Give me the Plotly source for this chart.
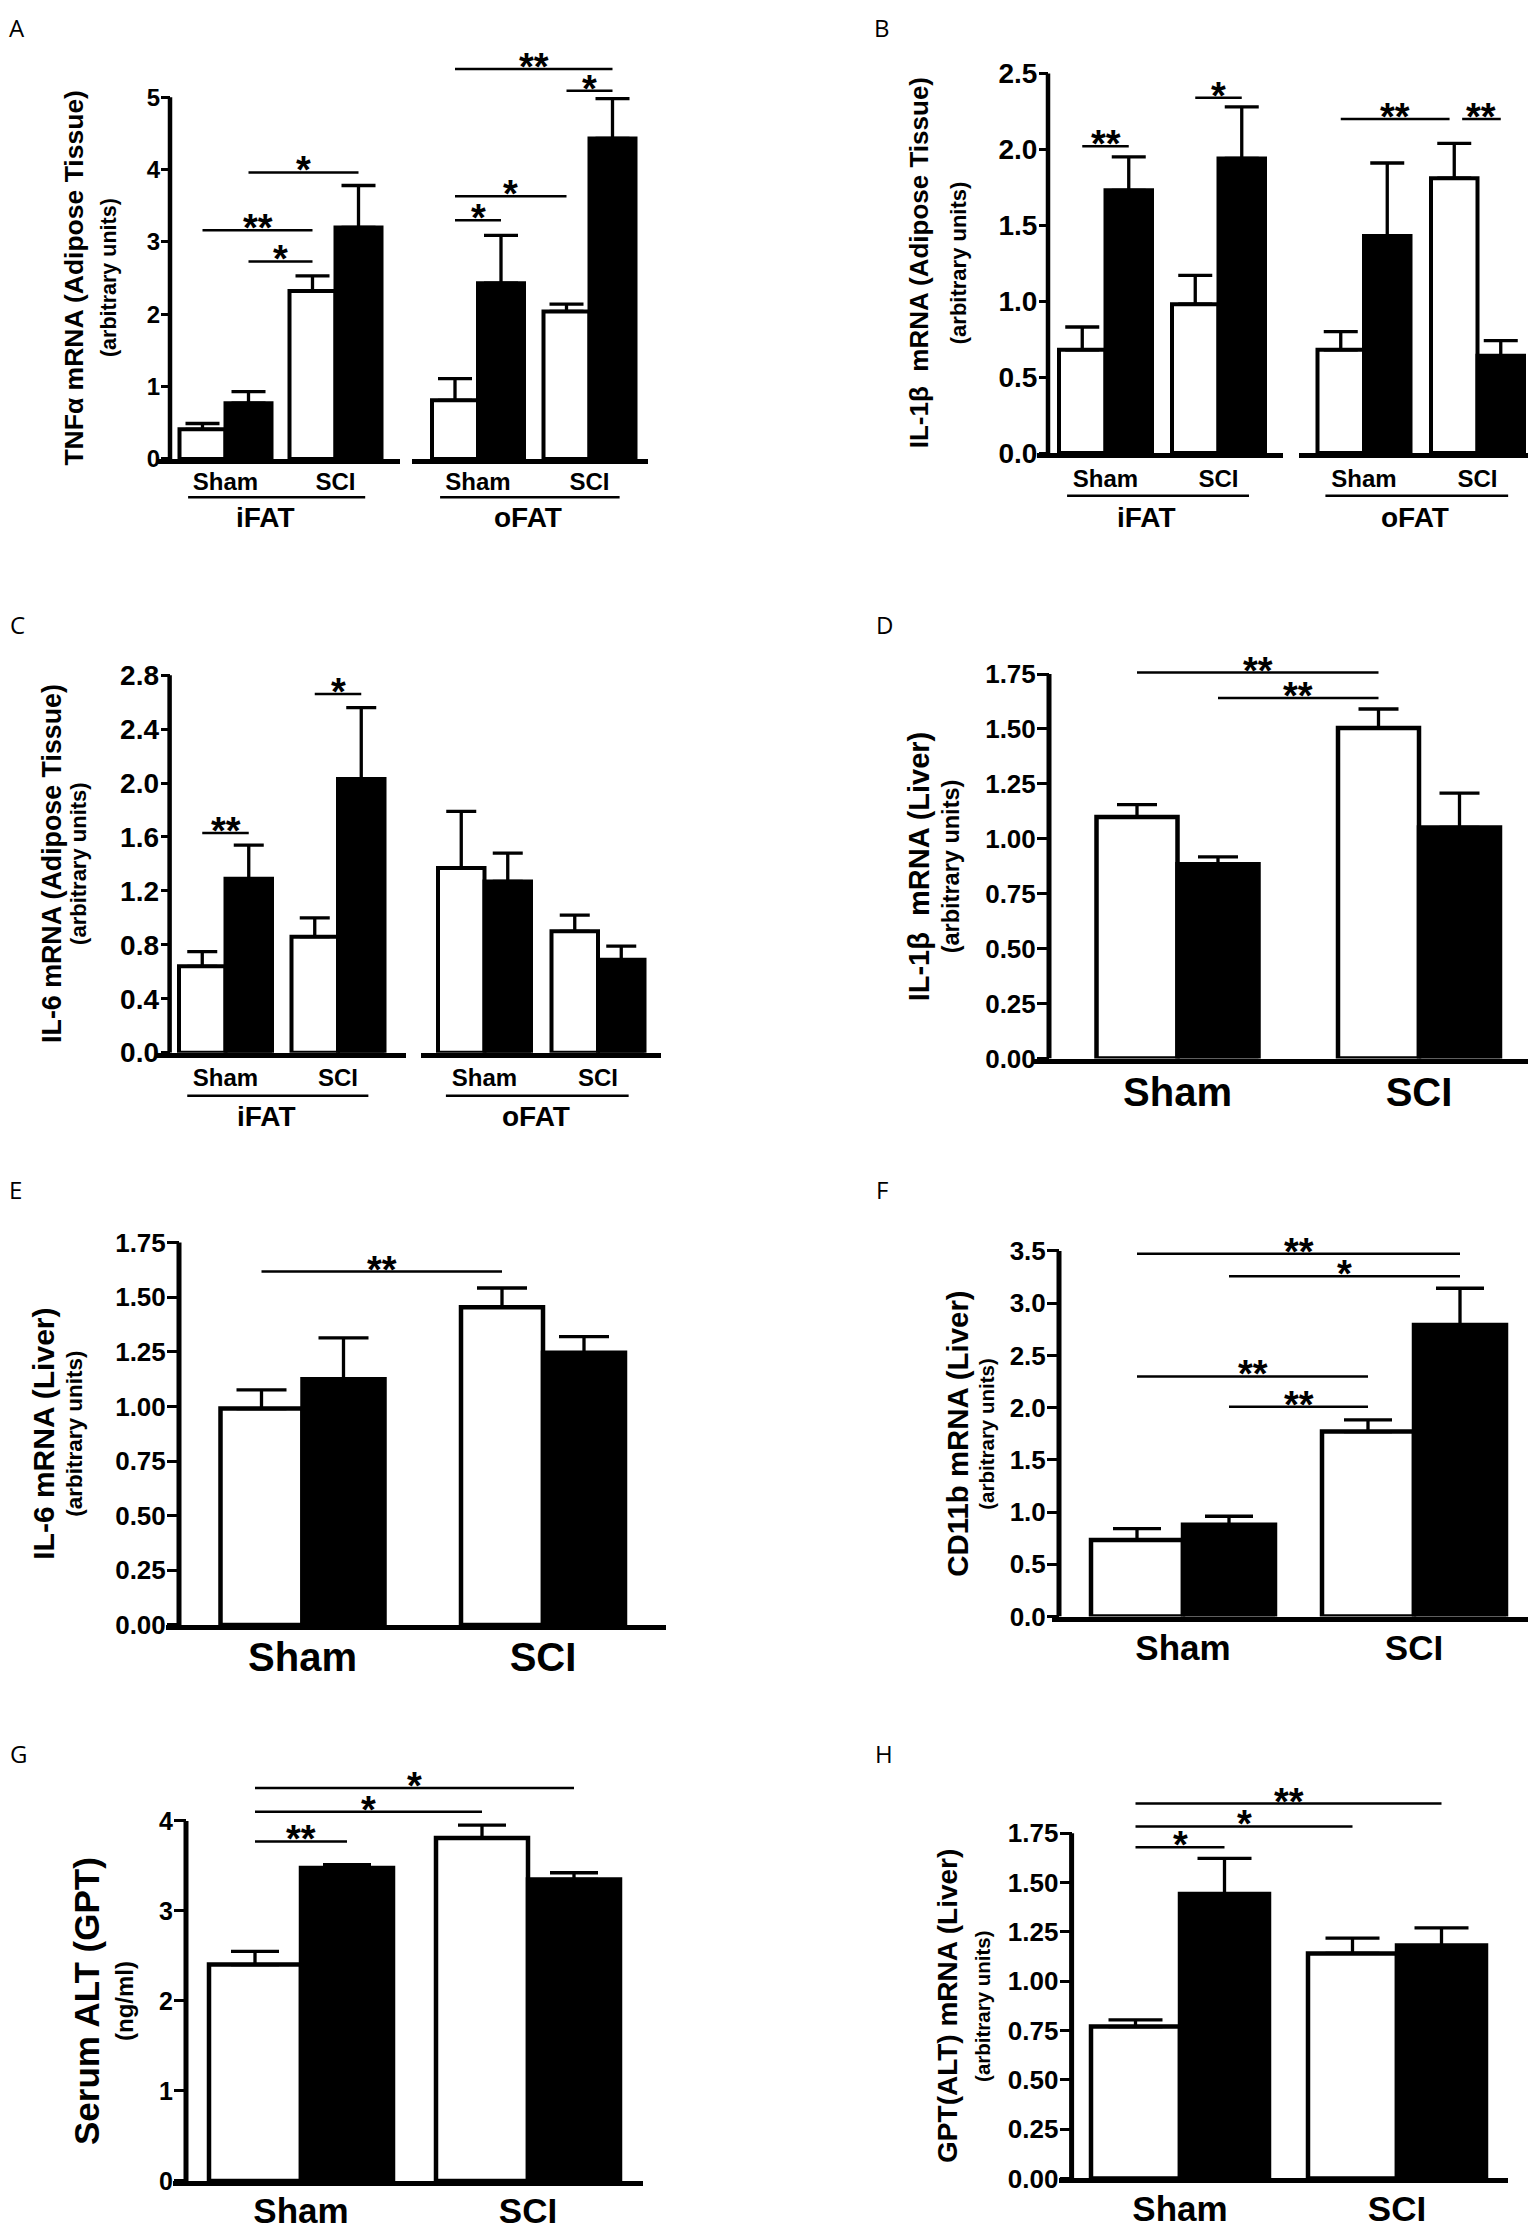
import math
import plotly.graph_objects as go

W, H = 1536, 2240
FONT = "Liberation Sans, Arial, sans-serif"
LETTER_FONT = "Open Sans, DejaVu Sans, sans-serif"

# ---------------- data ----------------
groups = ["Sham", "SCI"]
fat_groups = ["iFAT", "oFAT"]

# A: TNFα mRNA (Adipose Tissue)
A_iFAT_open = [0.41, 2.32]
A_iFAT_open_sem = [0.08, 0.21]
A_iFAT_filled = [0.77, 3.20]
A_iFAT_filled_sem = [0.16, 0.58]
A_oFAT_open = [0.81, 2.04]
A_oFAT_open_sem = [0.30, 0.10]
A_oFAT_filled = [2.43, 4.43]
A_oFAT_filled_sem = [0.66, 0.55]
A_tickvals = [0, 1, 2, 3, 4, 5]
A_ticktext = ["0", "1", "2", "3", "4", "5"]
# brackets: (from bar, to bar, level, label); bars 0=Sham open, 1=Sham filled, 2=SCI open, 3=SCI filled
A_iFAT_sig = [(1, 3, 3.96, "*"), (0, 2, 3.16, "**"), (1, 2, 2.73, "*")]
A_oFAT_sig = [(0, 3, 5.39, "**"), (2, 3, 5.09, "*"), (0, 2, 3.63, "*"), (0, 1, 3.30, "*")]

# B: IL-1β mRNA (Adipose Tissue)
B_iFAT_open = [0.68, 0.98]
B_iFAT_open_sem = [0.15, 0.19]
B_iFAT_filled = [1.73, 1.94]
B_iFAT_filled_sem = [0.22, 0.34]
B_oFAT_open = [0.68, 1.81]
B_oFAT_open_sem = [0.12, 0.23]
B_oFAT_filled = [1.43, 0.64]
B_oFAT_filled_sem = [0.48, 0.10]
B_tickvals = [0.0, 0.5, 1.0, 1.5, 2.0, 2.5]
B_ticktext = ["0.0", "0.5", "1.0", "1.5", "2.0", "2.5"]
B_iFAT_sig = [(0, 1, 2.02, "**"), (2, 3, 2.34, "*")]
B_oFAT_sig = [(0, 1.93, 2.20, "**"), (2.17, 3, 2.20, "**")]

# C: IL-6 mRNA (Adipose Tissue)
C_iFAT_open = [0.64, 0.86]
C_iFAT_open_sem = [0.11, 0.14]
C_iFAT_filled = [1.29, 2.03]
C_iFAT_filled_sem = [0.25, 0.53]
C_oFAT_open = [1.37, 0.90]
C_oFAT_open_sem = [0.42, 0.12]
C_oFAT_filled = [1.27, 0.69]
C_oFAT_filled_sem = [0.21, 0.10]
C_tickvals = [0.0, 0.4, 0.8, 1.2, 1.6, 2.0, 2.4, 2.8]
C_ticktext = ["0.0", "0.4", "0.8", "1.2", "1.6", "2.0", "2.4", "2.8"]
C_iFAT_sig = [(0, 1, 1.63, "**"), (2, 3, 2.66, "*")]
C_oFAT_sig = []

# D: IL-1β mRNA (Liver)
D_open = [1.10, 1.505]
D_open_sem = [0.056, 0.086]
D_filled = [0.884, 1.052]
D_filled_sem = [0.034, 0.156]
D_sig = [(0, 2, 1.757, "**"), (1, 2, 1.641, "**")]

# E: IL-6 mRNA (Liver)
E_open = [0.99, 1.454]
E_open_sem = [0.086, 0.088]
E_filled = [1.124, 1.246]
E_filled_sem = [0.19, 0.073]
E_sig = [(0, 2, 1.617, "**")]

liver_tickvals = [0.0, 0.25, 0.5, 0.75, 1.0, 1.25, 1.5, 1.75]
liver_ticktext = ["0.00", "0.25", "0.50", "0.75", "1.00", "1.25", "1.50", "1.75"]

# F: CD11b mRNA (Liver)
F_open = [0.732, 1.771]
F_open_sem = [0.109, 0.112]
F_filled = [0.878, 2.792]
F_filled_sem = [0.082, 0.351]
F_tickvals = [0.0, 0.5, 1.0, 1.5, 2.0, 2.5, 3.0, 3.5]
F_ticktext = ["0.0", "0.5", "1.0", "1.5", "2.0", "2.5", "3.0", "3.5"]
F_sig = [(0, 3, 3.473, "**"), (1, 3, 3.258, "*"), (0, 2, 2.298, "**"), (1, 2, 2.009, "**")]

# G: Serum ALT (GPT)
G_open = [2.405, 3.811]
G_open_sem = [0.147, 0.144]
G_filled = [3.478, 3.350]
G_filled_sem = [0.038, 0.075]
G_tickvals = [0, 1, 2, 3, 4]
G_ticktext = ["0", "1", "2", "3", "4"]
G_sig = [(0, 3, 4.367, "*"), (0, 2, 4.102, "*"), (0, 1, 3.773, "**")]

# H: GPT(ALT) mRNA (Liver)
H_open = [0.770, 1.141]
H_open_sem = [0.034, 0.078]
H_filled = [1.442, 1.181]
H_filled_sem = [0.181, 0.090]
H_sig = [(0, 3, 1.901, "**"), (0, 2, 1.785, "*"), (0, 1, 1.680, "*")]

# ---------------- figure ----------------
fig = go.Figure()
layout = {}
shapes = []
annotations = []


def fx(px):
    return px / W


def fy(py):
    return 1 - py / H


def bfont(size):
    return dict(family=FONT, size=size, color="black", weight="bold")


def bar_center(j, w):
    def c(i):
        return (i // 2) + (-w / 2 if i % 2 == 0 else w / 2)
    lo = int(math.floor(j))
    f = j - lo
    if f == 0:
        return c(lo)
    return c(lo) + f * (c(lo + 1) - c(lo))


def add_subplot(n, geo, yinfo, opn, opn_sem, fil, fil_sem, sig,
                show_y, tickvals=None, ticktext=None, tick_size=26,
                xlab_size=24, xlab_standoff=0, cap=18, star_size=38,
                ticklen=9, axis_w=4.5, bar_w=4):
    xid = "x" if n == 1 else f"x{n}"
    yid = "y" if n == 1 else f"y{n}"
    xname = "xaxis" if n == 1 else f"xaxis{n}"
    yname = "yaxis" if n == 1 else f"yaxis{n}"
    xa, xb, c0, c1, bw = geo
    u = c1 - c0
    r0 = -(c0 - xa) / u
    r1 = 1 + (xb - c1) / u
    w = bw / u
    y0px, k, ytop, yax_px = yinfo
    layout[xname] = dict(
        domain=[fx(xa), fx(xb)], range=[r0, r1], type="category",
        categoryorder="array", categoryarray=groups,
        anchor=yid, showline=True, linewidth=axis_w, linecolor="black",
        ticks="", ticklabelstandoff=xlab_standoff,
        showgrid=False, zeroline=False, tickfont=bfont(xlab_size),
    )
    ydict = dict(
        domain=[fy(y0px), fy(y0px - k * ytop)], range=[0, ytop],
        showgrid=False, zeroline=False, showline=False,
    )
    if show_y:
        ydict.update(
            anchor="free", position=fx(yax_px),
            tickmode="array", tickvals=tickvals, ticktext=ticktext,
            ticks="outside", ticklen=ticklen, tickwidth=3.3, tickcolor="black",
            ticklabelstandoff=-4, tickfont=bfont(tick_size),
        )
        shapes.append(dict(type="line", xref="paper", yref=yid,
                           x0=fx(yax_px), x1=fx(yax_px), y0=0, y1=tickvals[-1],
                           line=dict(color="black", width=axis_w)))
    else:
        ydict.update(anchor=xid, visible=False)
    layout[yname] = ydict

    err_common = dict(type="data", symmetric=False, arrayminus=[0] * len(groups),
                      color="black", thickness=3.3, width=cap)
    fig.add_trace(go.Bar(
        x=groups, y=opn, offset=-w, width=w, xaxis=xid, yaxis=yid,
        marker=dict(color="white", line=dict(color="black", width=bar_w)),
        error_y=dict(array=opn_sem, **err_common), showlegend=False,
    ))
    fig.add_trace(go.Bar(
        x=groups, y=fil, offset=0, width=w, xaxis=xid, yaxis=yid,
        marker=dict(color="black", line=dict(color="black", width=bar_w)),
        error_y=dict(array=fil_sem, **err_common), showlegend=False,
    ))
    for a, b, lev, lab in sig:
        x0 = bar_center(a, w)
        x1 = bar_center(b, w)
        shapes.append(dict(type="line", xref=xid, yref=yid, x0=x0, x1=x1,
                           y0=lev, y1=lev, line=dict(color="black", width=2.5)))
        annotations.append(dict(xref=xid, yref=yid, x=(x0 + x1) / 2, y=lev,
                                text=lab, showarrow=False, xanchor="center",
                                yanchor="middle", yshift=2, font=bfont(star_size)))
    return xid, yid


def group_label(xid, y0px, text, line_off, lab_off, lab_x):
    shapes.append(dict(type="line", xref=xid, yref="paper", x0=-0.34, x1=1.27,
                       y0=fy(y0px + line_off), y1=fy(y0px + line_off),
                       line=dict(color="black", width=2.5)))
    annotations.append(dict(xref=xid, yref="paper", x=lab_x, y=fy(y0px + lab_off),
                            text=text, showarrow=False, xanchor="center",
                            yanchor="middle", font=bfont(28)))


def titles(yid, mid, main, sub, mx, sx, msize, ssize):
    annotations.append(dict(xref="paper", yref=yid, x=fx(mx), y=mid, text=main,
                            textangle=-90, showarrow=False, xanchor="center",
                            yanchor="middle", font=bfont(msize)))
    annotations.append(dict(xref="paper", yref=yid, x=fx(sx), y=mid, text=sub,
                            textangle=-90, showarrow=False, xanchor="center",
                            yanchor="middle", font=bfont(ssize)))


def letter(text, x, y):
    annotations.append(dict(xref="paper", yref="paper", x=fx(x), y=fy(y), text=text,
                            showarrow=False, xanchor="center", yanchor="middle",
                            font=dict(family=LETTER_FONT, size=24, color="black")))


# ---- A ----
A_y = (451, 73, 5.75, 162)
xa1, ya1 = add_subplot(1, (150, 392, 217.5, 327.5, 46), A_y, A_iFAT_open, A_iFAT_open_sem,
                       A_iFAT_filled, A_iFAT_filled_sem, A_iFAT_sig, True,
                       A_tickvals, A_ticktext, tick_size=24, cap=17, xlab_standoff=-3)
xa2, ya2 = add_subplot(2, (404, 640, 470, 581.5, 46), A_y, A_oFAT_open, A_oFAT_open_sem,
                       A_oFAT_filled, A_oFAT_filled_sem, A_oFAT_sig, False, cap=17,
                       xlab_standoff=-3)
group_label(xa1, 451, fat_groups[0], 38.5, 58.6, 0.36)
group_label(xa2, 451, fat_groups[1], 38.5, 58.6, 0.45)
titles(ya1, 2.5, "TNFα mRNA (Adipose Tissue)", "(arbitrary units)", 66.5, 101, 26.5, 21.5)
letter("A", 9, 16)

# ---- B ----
B_y = (445, 153.2, 2.6, 1040)
xb1, yb1 = add_subplot(3, (1029, 1275, 1097.5, 1210.5, 46.5), B_y, B_iFAT_open, B_iFAT_open_sem,
                       B_iFAT_filled, B_iFAT_filled_sem, B_iFAT_sig, True,
                       B_tickvals, B_ticktext, tick_size=28, cap=17, xlab_standoff=0)
xb2, yb2 = add_subplot(4, (1291, 1523, 1356, 1469.5, 46.5), B_y, B_oFAT_open, B_oFAT_open_sem,
                       B_oFAT_filled, B_oFAT_filled_sem, B_oFAT_sig, False, cap=17,
                       xlab_standoff=0)
group_label(xb1, 445, fat_groups[0], 43, 65, 0.36)
group_label(xb2, 445, fat_groups[1], 43, 65, 0.45)
titles(yb1, 1.25, "IL-1β  mRNA (Adipose Tissue)", "(arbitrary units)", 911, 950, 26, 22)
letter("B", 874, 16)

# ---- C ----
C_y = (1050, 136, 2.95, 161.6)
xc1, yc1 = add_subplot(5, (148, 398, 217.5, 330, 46.5), C_y, C_iFAT_open, C_iFAT_open_sem,
                       C_iFAT_filled, C_iFAT_filled_sem, C_iFAT_sig, True,
                       C_tickvals, C_ticktext, tick_size=28, cap=15, xlab_standoff=0)
xc2, yc2 = add_subplot(6, (413, 653, 476.5, 590, 46.5), C_y, C_oFAT_open, C_oFAT_open_sem,
                       C_oFAT_filled, C_oFAT_filled_sem, C_oFAT_sig, False, cap=15,
                       xlab_standoff=0)
group_label(xc1, 1050, fat_groups[0], 43.5, 64, 0.36)
group_label(xc2, 1050, fat_groups[1], 43.5, 64, 0.45)
titles(yc1, 1.4, "IL-6 mRNA (Adipose Tissue)", "(arbitrary units)", 44, 71, 26.8, 22)
letter("C", 9, 618)

# ---- D ----
xd, yd = add_subplot(7, (1024, 1524, 1169.5, 1411, 81), (1056, 221.7, 1.92, 1041),
                     D_open, D_open_sem, D_filled, D_filled_sem, D_sig, True,
                     liver_tickvals, liver_ticktext, tick_size=26, xlab_size=40,
                     xlab_standoff=-6, cap=20, ticklen=12, axis_w=5, bar_w=4.5)
titles(yd, 0.875, "IL-1β  mRNA (Liver)", "(arbitrary units)", 911, 943, 29, 23.5)
letter("D", 876, 618)

# ---- E ----
xe, ye = add_subplot(8, (158, 658, 294.5, 535, 82), (1627.5, 220.5, 1.8, 171),
                     E_open, E_open_sem, E_filled, E_filled_sem, E_sig, True,
                     liver_tickvals, liver_ticktext, tick_size=26, xlab_size=40,
                     xlab_standoff=-7, cap=25, ticklen=12, axis_w=5, bar_w=4.5)
titles(ye, 0.875, "IL-6 mRNA (Liver)", "(arbitrary units)", 36, 67, 30, 22.5)
letter("E", 7, 1188)

# ---- F ----
xf, yf = add_subplot(9, (1044, 1524, 1175, 1406, 92), (1619, 105.4, 3.7, 1051),
                     F_open, F_open_sem, F_filled, F_filled_sem, F_sig, True,
                     F_tickvals, F_ticktext, tick_size=26, xlab_size=35,
                     xlab_standoff=-4, cap=24, ticklen=12, axis_w=5, bar_w=4.5)
titles(yf, 1.75, "CD11b mRNA (Liver)", "(arbitrary units)", 950, 979, 29.4, 20.5)
letter("F", 874, 1188)

# ---- G ----
xg, yg = add_subplot(10, (165, 635, 293, 520, 92), (2188.5, 90.8, 4.65, 178),
                     G_open, G_open_sem, G_filled, G_filled_sem, G_sig, True,
                     G_tickvals, G_ticktext, tick_size=25, xlab_size=35,
                     xlab_standoff=-5, cap=24, ticklen=12, axis_w=5, bar_w=4.5)
titles(yg, 2.0, "Serum ALT (GPT)", "(ng/ml)", 79, 117, 35, 24)
letter("G", 10, 1757)

# ---- H ----
xh, yh = add_subplot(11, (1051, 1500, 1172, 1389, 89), (2186, 199, 2.02, 1063.6),
                     H_open, H_open_sem, H_filled, H_filled_sem, H_sig, True,
                     liver_tickvals, liver_ticktext, tick_size=26, xlab_size=35,
                     xlab_standoff=-4, cap=27, ticklen=12, axis_w=5, bar_w=4.5)
titles(yh, 0.875, "GPT(ALT) mRNA (Liver)", "(arbitrary units)", 940, 975, 28, 20.5)
letter("H", 876, 1757)

fig.update_layout(
    width=W, height=H, margin=dict(l=0, r=0, t=0, b=0),
    paper_bgcolor="white", plot_bgcolor="rgba(0,0,0,0)",
    barmode="overlay", showlegend=False,
    font=dict(family=FONT, color="black"),
    shapes=shapes, annotations=annotations,
    **layout,
)

fig.write_html("out.html")
